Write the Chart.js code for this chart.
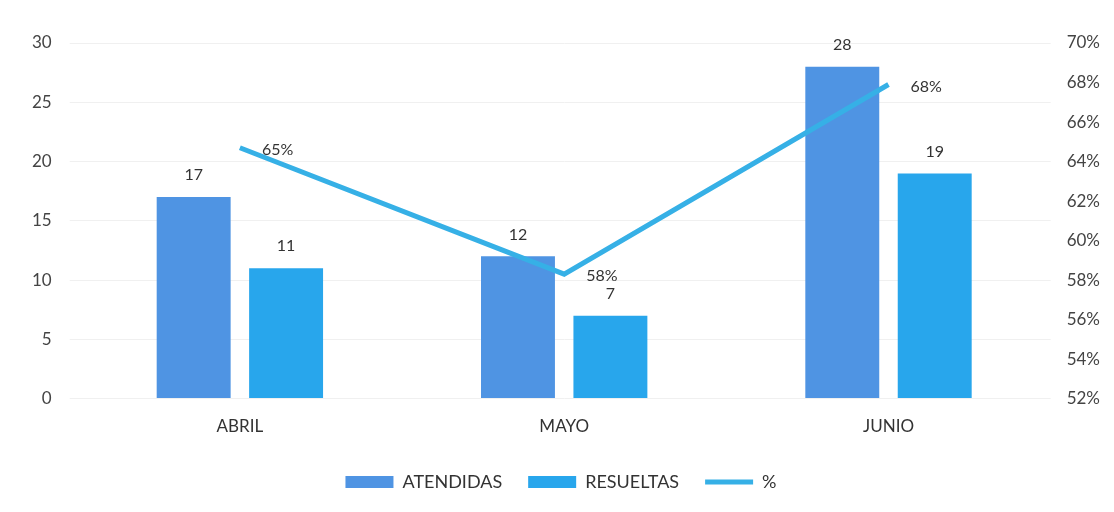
<!DOCTYPE html>
<html>
<head>
<meta charset="utf-8">
<script src="https://cdn.jsdelivr.net/npm/chart.js@4"></script>
<style>
  html, body { margin: 0; padding: 0; background: #fff; }
  #wrap { width: 1114px; height: 512px; }
</style>
</head>
<body>
<div id="wrap"><canvas id="chart"></canvas></div>
<script>
const months = ["ABRIL", "MAYO", "JUNIO"];
const atendidas = [17, 12, 28];
const resueltas = [11, 7, 19];
const pct = [64.7, 58.3, 67.9];
const leftTicks = [0, 5, 10, 15, 20, 25, 30];
const rightTicks = [52, 54, 56, 58, 60, 62, 64, 66, 68, 70];

const FONT = "Lato, 'Open Sans', sans-serif";

// draws the value labels above bars and next to the line points
const valueLabels = {
    id: "valueLabels",
    afterDatasetsDraw(chart) {
        const ctx = chart.ctx;
        ctx.save();
        ctx.font = "16px " + FONT;
        ctx.fillStyle = "#333";
        chart.data.datasets.forEach((ds, i) => {
            const meta = chart.getDatasetMeta(i);
            meta.data.forEach((el, j) => {
                const v = ds.data[j];
                if (ds.type === "line") {
                    ctx.textAlign = "left";
                    ctx.textBaseline = "middle";
                    ctx.fillText(Math.round(v) + "%", el.x + 22, el.y + 2);
                } else {
                    ctx.textAlign = "center";
                    ctx.textBaseline = "bottom";
                    ctx.fillText(v, el.x, el.y - 14);
                }
            });
        });
        ctx.restore();
    }
};

new Chart(document.getElementById("chart"), {
    type: "bar",
    data: {
        labels: months,
        datasets: [
            {
                label: "ATENDIDAS",
                data: atendidas,
                backgroundColor: "#4f94e3",
                pointStyle: "rect",
                yAxisID: "y",
                order: 2
            },
            {
                label: "RESUELTAS",
                data: resueltas,
                backgroundColor: "#28a6ec",
                pointStyle: "rect",
                yAxisID: "y",
                order: 3
            },
            {
                type: "line",
                label: "%",
                data: pct,
                borderColor: "#36b0e6",
                backgroundColor: "#36b0e6",
                borderWidth: 5,
                pointRadius: 0,
                pointStyle: "line",
                yAxisID: "y1",
                order: 1
            }
        ]
    },
    options: {
        responsive: true,
        maintainAspectRatio: false,
        animation: false,
        layout: { padding: { top: 43, left: 14, right: 6, bottom: 11 } },
        datasets: {
            bar: { categoryPercentage: 0.57, barPercentage: 0.8 }
        },
        plugins: {
            tooltip: { enabled: false },
            legend: {
                position: "bottom",
                labels: {
                    usePointStyle: true,
                    pointStyleWidth: 48,
                    boxHeight: 12,
                    padding: 26,
                    color: "#333",
                    font: { family: FONT, size: 18 },
                    sort: (a, b) => a.datasetIndex - b.datasetIndex
                }
            }
        },
        scales: {
            x: {
                grid: { display: false },
                border: { display: false },
                ticks: { color: "#333", font: { family: FONT, size: 17 }, padding: 10 }
            },
            y: {
                min: 0,
                max: 30,
                afterBuildTicks: (axis) => { axis.ticks = leftTicks.map(v => ({ value: v })); },
                grid: { color: "#f0f0f0" },
                border: { display: false },
                ticks: { color: "#444", font: { family: FONT, size: 17 }, padding: 18 }
            },
            y1: {
                position: "right",
                min: 52,
                max: 70,
                afterBuildTicks: (axis) => { axis.ticks = rightTicks.map(v => ({ value: v })); },
                grid: { display: false },
                border: { display: false },
                ticks: {
                    color: "#444",
                    font: { family: FONT, size: 17 },
                    padding: 8,
                    callback: (v) => v + "%"
                }
            }
        }
    },
    plugins: [valueLabels]
});
</script>
</body>
</html>
